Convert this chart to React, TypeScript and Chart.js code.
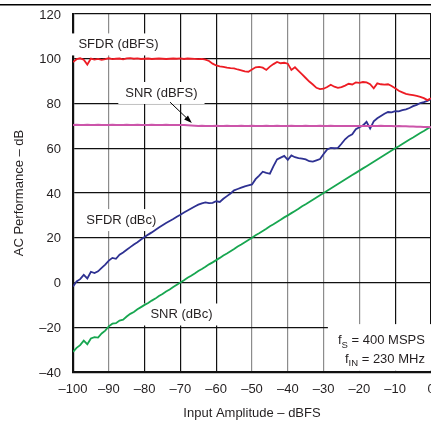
import { useEffect, useRef } from "react";
import { Chart, registerables } from "chart.js";

Chart.register(...registerables);

const inputAmplitude = [
  -100, -99, -98, -97, -96, -95, -94, -93, -92, -91,
  -90, -89, -88, -87, -86, -85, -84, -83, -82, -81,
  -80, -79, -78, -77, -76, -75, -74, -73, -72, -71,
  -70, -69, -68, -67, -66, -65, -64, -63, -62, -61,
  -60, -59, -58, -57, -56, -55, -54, -53, -52, -51,
  -50, -49, -48, -47, -46, -45, -44, -43, -42, -41,
  -40, -39, -38, -37, -36, -35, -34, -33, -32, -31,
  -30, -29, -28, -27, -26, -25, -24, -23, -22, -21,
  -20, -19, -18, -17, -16, -15, -14, -13, -12, -11,
  -10, -9, -8, -7, -6, -5, -4, -3, -2, -1,
  0,
];

const sfdrDbfs = [
  98.5, 99.8, 100.2, 99.6, 97.4, 100.1, 99.6, 99.9, 99.5, 99.8,
  100.2, 99.8, 100.0, 100.1, 99.7, 100.2, 100.3, 100.0, 100.2, 99.9,
  100.0, 100.1, 99.9, 100.0, 100.1, 100.0, 99.9, 100.0, 100.1, 100.0,
  100.2, 99.9, 100.1, 100.0, 99.9, 99.8, 99.9, 99.6, 99.0, 97.8,
  97.0, 96.6, 96.4, 96.0, 95.8, 95.7, 95.2, 94.8, 94.4, 94.2,
  95.2, 96.2, 96.4, 96.0, 95.0, 96.5, 97.6, 98.6, 98.0, 98.2,
  97.8, 95.0, 96.2, 94.6, 93.0, 91.4, 89.8, 88.5, 87.0, 86.4,
  86.6, 87.4, 88.4, 87.5, 87.0, 87.3, 88.0, 88.8, 88.5, 89.4,
  89.2, 89.6, 89.4, 88.6, 86.8, 89.0, 88.6, 88.4, 88.6, 87.8,
  86.8, 85.7, 85.0, 84.3, 84.0, 83.7, 83.4, 83.0, 82.4, 81.5,
  82.3,
];

const snrDbfs = [
  70.4, 70.5, 70.4, 70.4, 70.5, 70.4, 70.4, 70.5, 70.4, 70.4,
  70.4, 70.5, 70.4, 70.4, 70.4, 70.5, 70.4, 70.4, 70.5, 70.4,
  70.4, 70.4, 70.5, 70.4, 70.4, 70.4, 70.5, 70.4, 70.4, 70.4,
  70.4, 70.4, 70.3, 70.2, 70.1, 70.0, 70.1, 70.0, 70.0, 70.0,
  70.1, 70.0, 70.0, 70.1, 70.0, 70.0, 70.0, 70.1, 70.0, 70.0,
  70.1, 70.0, 70.0, 70.0, 70.1, 70.0, 70.0, 70.1, 70.0, 70.0,
  70.0, 70.1, 70.0, 70.0, 70.0, 70.1, 70.0, 70.0, 70.0, 70.1,
  70.0, 70.0, 70.1, 70.0, 70.0, 70.0, 70.0, 70.0, 69.9, 70.0,
  70.0, 70.0, 69.9, 70.0, 70.0, 69.9, 70.0, 69.9, 69.9, 69.9,
  69.8, 69.9, 69.8, 69.8, 69.7, 69.7, 69.6, 69.6, 69.5, 69.5,
  69.4,
];

const sfdrDbc = [
  -1.8, 0.5, 1.5, 3.4, 1.8, 4.8, 4.2, 5.0, 6.5, 8.0,
  9.8, 11.0, 10.6, 12.4, 13.4, 14.6, 15.8, 17.0, 18.0, 19.2,
  20.3, 21.4, 22.4, 23.5, 24.6, 25.6, 26.6, 27.5, 28.4, 29.4,
  30.3, 31.3, 32.2, 33.1, 34.0, 34.8, 35.4, 35.8, 35.5, 35.6,
  36.3, 36.0, 37.4, 38.6, 39.8, 41.2, 41.8, 42.4, 43.0, 43.4,
  43.8, 46.2, 47.8, 49.5, 49.0, 48.6, 52.0, 55.0, 55.8, 56.6,
  54.8, 56.8, 56.0, 55.6, 55.4, 55.0, 54.2, 54.0, 54.6, 55.2,
  57.4, 59.5, 60.2, 60.0, 60.2, 62.0, 64.0, 65.4, 66.2, 68.5,
  69.4, 70.2, 71.8, 68.8, 72.0, 73.4, 74.4, 75.4, 76.2, 76.0,
  76.6, 76.5, 77.0, 77.4, 78.0, 78.8, 79.4, 80.2, 80.6, 81.2,
  82.0,
];

const snrDbc = [
  -31.0, -29.2, -28.0, -26.0, -27.6, -25.0, -24.4, -24.6, -22.8, -21.5,
  -19.6, -18.4, -18.2, -17.0, -16.6, -15.2, -14.0, -13.2, -12.0, -11.0,
  -10.0, -9.2, -8.1, -7.2, -6.0, -5.1, -4.0, -3.1, -2.0, -1.0,
  0.0, 1.0, 2.1, 3.0, 4.0, 5.1, 6.0, 7.0, 8.1, 9.0,
  10.0, 11.0, 12.1, 13.0, 14.0, 15.0, 16.1, 17.0, 18.0, 19.0,
  20.0, 21.1, 22.0, 23.0, 24.0, 25.1, 26.0, 27.0, 28.0, 29.1,
  30.0, 31.0, 32.0, 33.0, 34.1, 35.0, 36.0, 37.0, 38.0, 39.0,
  40.0, 41.0, 42.0, 43.0, 44.0, 45.0, 46.0, 47.0, 48.0, 49.0,
  50.0, 51.0, 52.0, 53.0, 54.0, 55.0, 56.0, 57.0, 58.0, 59.0,
  60.0, 60.9, 61.9, 62.9, 63.9, 64.8, 65.8, 66.8, 67.7, 68.7,
  69.6,
];

const seriesLabels = ["SFDR (dBFS)", "SNR (dBFS)", "SFDR (dBc)", "SNR (dBc)"];
const xAxisTitle = "Input Amplitude \u2013 dBFS";
const yAxisTitle = "AC Performance \u2013 dB";
const conditionLines = [
  [["f", false], ["S", true], [" = 400 MSPS", false]],
  [["f", false], ["IN", true], [" = 230 MHz", false]],
];

// label annotations (center in data coordinates)
const labelNotes = [
  { text: "SFDR (dBFS)", x: -87.3, y: 106.4 },
  { text: "SNR (dBFS)", x: -75.3, y: 84.7 },
  { text: "SFDR (dBc)", x: -86.5, y: 27.9 },
  { text: "SNR (dBc)", x: -69.7, y: -14.3 },
];
const arrowNote = { x1: -72.9, y1: 80.6, x2: -66.8, y2: 71.3 };
const conditionBox = { x: -28.8, y: -18.6, textRightX: -1.7, lineY: [-26.1, -34.2] };

const FONT = "'Liberation Sans', Arial, Helvetica, sans-serif";
const TEXT_COLOR = "#231f20";
const grayGridValues = [-90, -50, -40, -30, -20];

const annotationPlugin = {
  id: "annotations",
  beforeDraw(chart: any) {
    const ctx = chart.ctx;
    ctx.save();
    ctx.fillStyle = "#000";
    ctx.fillRect(0, 4, chart.width, 1.5);
    ctx.restore();
  },
  beforeDatasetsDraw(chart: any) {
    const ctx = chart.ctx;
    const xs = chart.scales.x;
    const ys = chart.scales.y;
    const area = chart.chartArea;
    ctx.save();
    ctx.font = `13px ${FONT}`;
    for (const n of labelNotes) {
      const cx = xs.getPixelForValue(n.x);
      const cy = ys.getPixelForValue(n.y);
      const w = ctx.measureText(n.text).width;
      ctx.fillStyle = "#fff";
      ctx.fillRect(cx - w / 2 - 7, cy - 11, w + 14, 22);
      ctx.fillStyle = TEXT_COLOR;
      ctx.textAlign = "center";
      ctx.textBaseline = "middle";
      ctx.fillText(n.text, cx, cy);
    }
    const bx = xs.getPixelForValue(conditionBox.x);
    const by = ys.getPixelForValue(conditionBox.y);
    ctx.fillStyle = "#fff";
    ctx.fillRect(bx, by, chart.width - bx, area.bottom - 1.2 - by);
    const rightX = xs.getPixelForValue(conditionBox.textRightX);
    conditionLines.forEach((segs: any, i: number) => {
      const ly = ys.getPixelForValue(conditionBox.lineY[i]);
      let total = 0;
      const widths = segs.map(([t, sub]: any) => {
        ctx.font = sub ? `9.5px ${FONT}` : `13px ${FONT}`;
        const w = ctx.measureText(t).width;
        total += w;
        return w;
      });
      let x = rightX - total;
      ctx.textAlign = "left";
      ctx.textBaseline = "middle";
      ctx.fillStyle = TEXT_COLOR;
      segs.forEach(([t, sub]: any, j: number) => {
        ctx.font = sub ? `9.5px ${FONT}` : `13px ${FONT}`;
        ctx.fillText(t, x, sub ? ly + 4 : ly);
        x += widths[j];
      });
    });
    ctx.restore();
  },
  afterDatasetsDraw(chart: any) {
    const ctx = chart.ctx;
    const xs = chart.scales.x;
    const ys = chart.scales.y;
    const x1 = xs.getPixelForValue(arrowNote.x1);
    const y1 = ys.getPixelForValue(arrowNote.y1);
    const x2 = xs.getPixelForValue(arrowNote.x2);
    const y2 = ys.getPixelForValue(arrowNote.y2);
    const ang = Math.atan2(y2 - y1, x2 - x1);
    const len = 8;
    const half = 2.8;
    const bx = x2 - len * Math.cos(ang);
    const by = y2 - len * Math.sin(ang);
    ctx.save();
    ctx.strokeStyle = "#000";
    ctx.lineWidth = 1;
    ctx.beginPath();
    ctx.moveTo(x1, y1);
    ctx.lineTo(bx, by);
    ctx.stroke();
    ctx.fillStyle = "#000";
    ctx.beginPath();
    ctx.moveTo(x2, y2);
    ctx.lineTo(bx + half * Math.sin(ang), by - half * Math.cos(ang));
    ctx.lineTo(bx - half * Math.sin(ang), by + half * Math.cos(ang));
    ctx.closePath();
    ctx.fill();
    ctx.restore();
  },
};

const fmt = (v: number) => (v < 0 ? "\u2013" + Math.abs(v) : String(v));

export default function App() {
  const ref = useRef<HTMLCanvasElement | null>(null);

  useEffect(() => {
    if (!ref.current) return;
    const mk = (vals: number[]) => inputAmplitude.map((x, i) => ({ x, y: vals[i] }));
    const colors = ["#ed1c24", "#cc55aa", "#2e3192", "#17a650"];
    const widths = [1.8, 2, 1.8, 1.8];
    const all = [sfdrDbfs, snrDbfs, sfdrDbc, snrDbc];
    const chart = new Chart(ref.current, {
      type: "line",
      data: {
        datasets: all.map((vals, i) => ({
          label: seriesLabels[i],
          data: mk(vals),
          borderColor: colors[i],
          borderWidth: widths[i],
          pointRadius: 0,
          tension: 0,
          fill: false,
        })),
      },
      options: {
        animation: false,
        responsive: false,
        devicePixelRatio: 1,
        layout: { padding: { top: 14, left: 0, right: 30, bottom: 0 } },
        plugins: { legend: { display: false }, tooltip: { enabled: false } },
        scales: {
          x: {
            type: "linear",
            min: -100,
            max: 0,
            afterFit: (s: any) => {
              s.height = 49;
            },
            ticks: {
              stepSize: 10,
              padding: 10,
              color: TEXT_COLOR,
              font: { family: FONT, size: 13 },
              callback: (v: any) => fmt(Number(v)),
              maxRotation: 0,
            },
            grid: {
              drawTicks: false,
              lineWidth: 1.2,
              color: (c: any) =>
                grayGridValues.includes(c.tick?.value) ? "#8c8c8c" : "#111",
            },
            border: { display: true, width: 2.2, color: "#111" },
            title: {
              display: true,
              text: xAxisTitle,
              color: TEXT_COLOR,
              font: { family: FONT, size: 13 },
              padding: { top: 0, bottom: 0 },
            },
          },
          y: {
            type: "linear",
            min: -40,
            max: 120,
            afterFit: (s: any) => {
              s.width = 73;
              s.paddingTop = 8;
              s.paddingBottom = 8;
            },
            ticks: {
              stepSize: 20,
              padding: 12,
              labelOffset: 1,
              color: TEXT_COLOR,
              font: { family: FONT, size: 13 },
              callback: (v: any) => fmt(Number(v)),
            },
            grid: { drawTicks: false, lineWidth: 1.2, color: "#111" },
            border: { display: true, width: 2.2, color: "#111" },
            title: {
              display: true,
              text: yAxisTitle,
              color: TEXT_COLOR,
              font: { family: FONT, size: 13 },
              padding: { top: 12, bottom: 0 },
            },
          },
        },
      },
      plugins: [annotationPlugin],
    });
    return () => chart.destroy();
  }, []);

  return (
    <div
      style={{
        position: "absolute",
        left: 0,
        top: 0,
        width: 431,
        height: 421,
        overflow: "hidden",
        background: "#fff",
      }}
    >
      <canvas ref={ref} width={461} height={421} style={{ width: 461, height: 421, display: "block" }} />
    </div>
  );
}
